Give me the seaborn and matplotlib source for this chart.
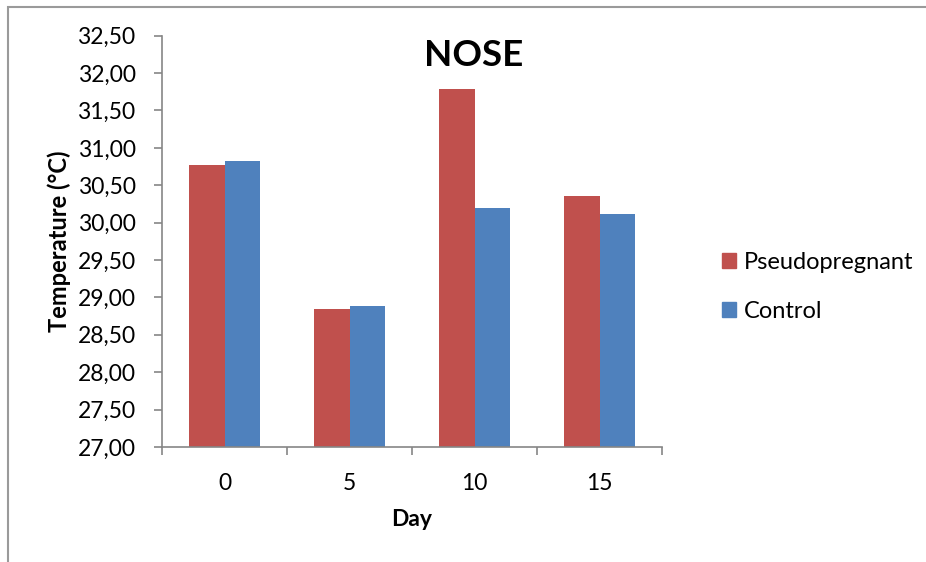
import matplotlib
matplotlib.use("Agg")
import matplotlib.pyplot as plt
import matplotlib.patches as mpatches
import seaborn as sns
import pandas as pd

# Nose surface temperature by day
days = ["0", "5", "10", "15"]
pseudopregnant = [30.77, 28.84, 31.79, 30.35]
control = [30.83, 28.88, 30.20, 30.12]
groups = ["Pseudopregnant", "Control"]
y_ticks = [27.0, 27.5, 28.0, 28.5, 29.0, 29.5, 30.0, 30.5, 31.0, 31.5, 32.0, 32.5]

df = pd.DataFrame({
    "Day": days * 2,
    "Temperature": pseudopregnant + control,
    "Group": [groups[0]] * len(days) + [groups[1]] * len(days),
})

sns.set_theme(style="white")
plt.rcParams["font.family"] = ["Lato", "DejaVu Sans"]
plt.rcParams["text.color"] = "black"

red = "#C0504D"
blue = "#4F81BD"
axis_grey = "#868686"

fig = plt.figure(figsize=(9.26, 5.62), dpi=100)
ax = fig.add_axes([162 / 926, 1 - 447 / 562, (662 - 162) / 926, (447 - 35.7) / 562])

sns.barplot(data=df, x="Day", y="Temperature", hue="Group", order=days,
            hue_order=groups, palette=[red, blue], saturation=1, width=0.575,
            linewidth=0, ax=ax, legend=False)

ax.set_ylim(27.0, 32.5)
ax.set_xlim(-0.5, len(days) - 0.5)
ax.set_yticks(y_ticks)
ax.set_yticklabels([f"{v:.2f}".replace(".", ",") for v in y_ticks])

# category boundaries carry the tick marks, labels sit at the centres
ax.set_xticks([i - 0.5 for i in range(len(days) + 1)])
ax.set_xticklabels([""] * (len(days) + 1))
ax.set_xticks(range(len(days)), minor=True)
ax.set_xticklabels(days, minor=True)

ax.tick_params(axis="y", which="major", left=True, length=6, width=1.2,
               color=axis_grey, labelsize=16.5, pad=13, labelcolor="black")
ax.tick_params(axis="x", which="major", bottom=True, length=6, width=1.2,
               color=axis_grey)
ax.tick_params(axis="x", which="minor", bottom=False, length=0,
               labelsize=16.5, pad=19, labelcolor="black")

for side in ("top", "right"):
    ax.spines[side].set_visible(False)
for side in ("left", "bottom"):
    ax.spines[side].set_color(axis_grey)
    ax.spines[side].set_linewidth(1.2)

ax.set_xlabel("Day", fontsize=16.5, fontweight="bold", color="black")
ax.xaxis.set_label_coords(0.5, -(520 - 447) / 411.3)
ax.xaxis.label.set_va("center")
ax.set_ylabel("Temperature (°C)", fontsize=17, fontweight="bold", color="black")
ax.yaxis.set_label_coords(-(162 - 59) / 500, (447 - 241) / 411.3)
ax.yaxis.label.set_va("center")

fig.text(474 / 926, 1 - 56 / 562, "NOSE", fontsize=26.5, fontweight="bold",
         ha="center", va="center", color="black")

handles = [mpatches.Patch(color=red, label=groups[0]),
           mpatches.Patch(color=blue, label=groups[1])]
fig.legend(handles=handles, loc="center left",
           bbox_to_anchor=(710 / 926, 1 - 287 / 562), frameon=False,
           fontsize=17, handlelength=0.6, handleheight=0.6,
           handletextpad=0.35, labelspacing=1.2, borderpad=0)

# outer chart frame
frame = mpatches.Rectangle((8 / 926, -0.05), 1.2, 1 - 7 / 562 + 0.05,
                           transform=fig.transFigure, fill=False,
                           edgecolor="#9a9a9a", linewidth=1.5)
fig.patches.append(frame)

fig.savefig("out.png", dpi=100)
